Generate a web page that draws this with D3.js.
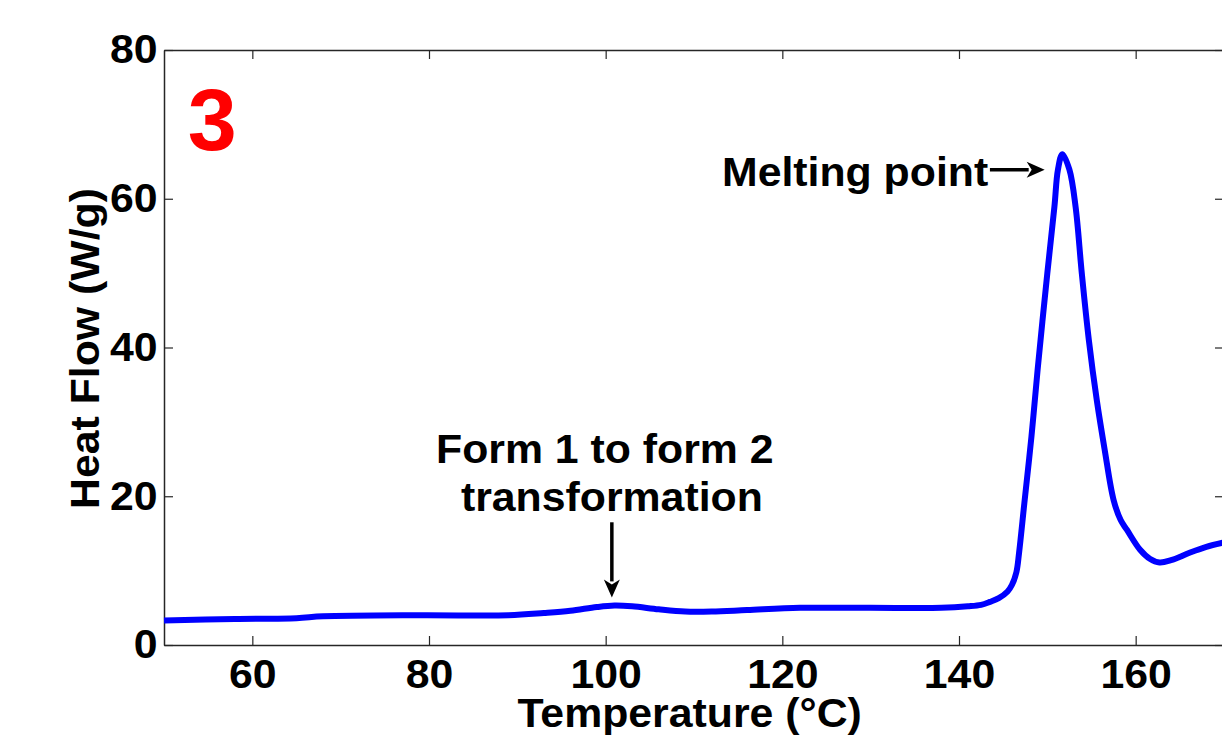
<!DOCTYPE html>
<html>
<head>
<meta charset="utf-8">
<script src="https://cdn.jsdelivr.net/npm/d3@7"></script>
<style>
  body { margin: 0; background: #fff; overflow: hidden; }
  text { font-family: "Liberation Sans", Arial, sans-serif; font-weight: bold; }
</style>
</head>
<body>
<div id="chart-area"></div>
<script>
// DSC curve
const temperature = [50, 58, 65, 68, 79, 89, 93, 96, 99, 101, 103, 106, 109, 112, 116, 122, 130, 138, 141,
  142.5, 143.5, 144.5, 145.5, 146, 146.5, 146.8, 147.4, 148.2, 148.9, 150.0, 150.8, 151.2, 151.7,
  152.5, 153.2, 153.9, 154.7, 155.6, 156.5, 157.5, 158.3, 159.0, 160.5, 161.6, 162.7, 164, 166.1, 168, 170];
const heatFlow = [3.3, 3.5, 3.6, 3.85, 4.0, 4.0, 4.3, 4.6, 5.1, 5.3, 5.2, 4.8, 4.5, 4.5, 4.7, 5.0, 5.0, 5.0, 5.2,
  5.4, 5.8, 6.3, 7.2, 8.1, 9.8, 12.4, 19.1, 28.0, 37.0, 50.0, 58.9, 63.9, 66.0,
  63.9, 58.9, 50.0, 41.0, 32.9, 26.2, 19.5, 16.8, 15.5, 12.8, 11.6, 11.1, 11.4, 12.4, 13.2, 13.8];

const xTicks = [60, 80, 100, 120, 140, 160];
const yTicks = [0, 20, 40, 60, 80];
const xDomain = [50, 170];
const yDomain = [0, 80];

// annotations, in data units
const meltLabel = { x: 143.3, y: 61.7, text: "Melting point" };
const meltArrow = { x1: 143.5, y1: 63.9, x2: 149.7, y2: 63.9 };
const formLabels = [
  { x: 99.9, y: 24.5, text: "Form 1 to form 2" },
  { x: 100.7, y: 18.0, text: "transformation" },
];
const formArrow = { x1: 100.7, y1: 16.5, x2: 100.7, y2: 6.4 };
const panelLabel = { x: 52.7, y: 66.6, text: "3" };

const W = 1222, H = 737;
const MARGIN = { LEFT: 164, RIGHT: -2, TOP: 50, BOTTOM: 92 };
const FONT = 40;
const STRETCH = 1.07; // glyphs in the reference are a bit wider than Liberation Sans

const svg = d3.select("#chart-area").append("svg")
  .attr("width", W)
  .attr("height", H);

const x = d3.scaleLinear().domain(xDomain).range([MARGIN.LEFT, W - MARGIN.RIGHT]);
const y = d3.scaleLinear().domain(yDomain).range([H - MARGIN.BOTTOM, MARGIN.TOP]);

const AXIS_COLOR = "#262626";
const TICK = 9;

function styleAxis(g) {
  g.select(".domain").attr("stroke", AXIS_COLOR).attr("stroke-width", 1.5);
  g.selectAll(".tick line").attr("stroke", AXIS_COLOR).attr("stroke-width", 1.2);
  g.selectAll("text")
    .attr("fill", "#000")
    .attr("font-size", FONT + "px")
    .attr("font-family", "'Liberation Sans', Arial, sans-serif")
    .attr("font-weight", "bold")
    .attr("transform", `scale(${STRETCH}, 1)`);
}

// bottom axis
svg.append("g")
  .attr("transform", `translate(0, ${y(0)})`)
  .call(d3.axisBottom(x).tickValues(xTicks).tickSizeInner(-TICK).tickSizeOuter(0).tickPadding(15))
  .call(styleAxis);

// top axis (ticks only)
svg.append("g")
  .attr("transform", `translate(0, ${y(80)})`)
  .call(d3.axisTop(x).tickValues(xTicks).tickSizeInner(-TICK).tickSizeOuter(0).tickFormat(""))
  .call(styleAxis);

// left axis
svg.append("g")
  .attr("transform", `translate(${x(50)}, 0)`)
  .call(d3.axisLeft(y).tickValues(yTicks).tickSizeInner(-TICK).tickSizeOuter(0).tickPadding(6))
  .call(styleAxis);

// right axis (ticks only)
svg.append("g")
  .attr("transform", `translate(${x(170)}, 0)`)
  .call(d3.axisRight(y).tickValues(yTicks).tickSizeInner(-TICK).tickSizeOuter(0).tickFormat(""))
  .call(styleAxis);

// the curve
const data = temperature.map((t, i) => ({ t: t, h: heatFlow[i] }));
const line = d3.line()
  .x((d) => x(d.t))
  .y((d) => y(d.h))
  .curve(d3.curveCatmullRom.alpha(0.5));

svg.append("path")
  .datum(data)
  .attr("fill", "none")
  .attr("stroke", "#0000ff")
  .attr("stroke-width", 6)
  .attr("stroke-linejoin", "round")
  .attr("d", line);

// text placed with a slight horizontal stretch
function label(px, py, str, anchor, size, extra) {
  return svg.append("text")
    .attr("transform", `translate(${px}, ${py}) ${extra || ""} scale(${STRETCH}, 1)`)
    .attr("text-anchor", anchor)
    .attr("font-size", size + "px")
    .text(str);
}

// axis labels
label(x(109.5), 727, "Temperature (°C)", "middle", FONT);
label(99, y(40) + 1, "Heat Flow (W/g)", "middle", FONT, "rotate(-90)");

// panel number
svg.append("text")
  .attr("x", x(panelLabel.x))
  .attr("y", y(panelLabel.y))
  .attr("fill", "#ff0000")
  .attr("font-size", "88px")
  .text(panelLabel.text);

// annotations
label(x(meltLabel.x), y(meltLabel.y), meltLabel.text, "end", FONT);
formLabels.forEach((d) => label(x(d.x), y(d.y), d.text, "middle", FONT));

function arrow(a) {
  const x1 = x(a.x1), y1 = y(a.y1), x2 = x(a.x2), y2 = y(a.y2);
  const len = Math.hypot(x2 - x1, y2 - y1);
  const ux = (x2 - x1) / len, uy = (y2 - y1) / len;
  const headL = 18, headW = 8;
  const bx = x2 - ux * headL, by = y2 - uy * headL;
  svg.append("line")
    .attr("x1", x1).attr("y1", y1)
    .attr("x2", bx + ux * 2).attr("y2", by + uy * 2)
    .attr("stroke", "#000")
    .attr("stroke-width", 3.5);
  svg.append("path")
    .attr("d", `M${x2},${y2}L${bx - uy * headW},${by + ux * headW}L${bx + ux * 5},${by + uy * 5}L${bx + uy * headW},${by - ux * headW}Z`)
    .attr("fill", "#000");
}
arrow(meltArrow);
arrow(formArrow);
</script>
</body>
</html>
